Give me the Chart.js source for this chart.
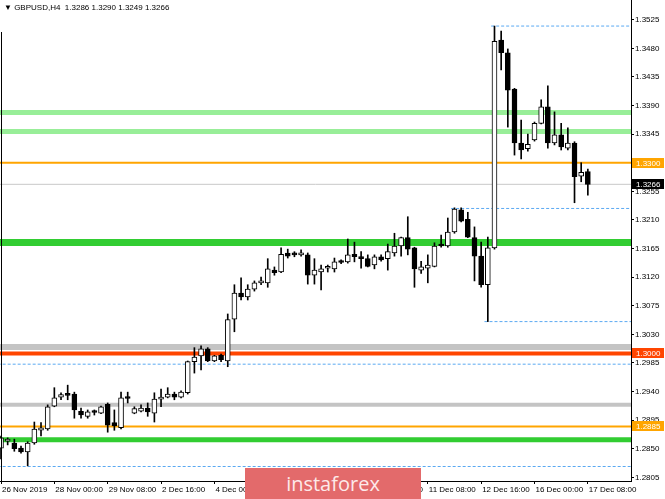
<!DOCTYPE html>
<html>
<head>
<meta charset="utf-8">
<title>GBPUSD H4</title>
<script src="https://cdn.jsdelivr.net/npm/chart.js@4.4.0/dist/chart.umd.min.js"></script>
<style>
  html, body { margin: 0; padding: 0; background: #fff; }
  #wrap { position: relative; width: 665px; height: 499px; overflow: hidden; }
  #title { position: absolute; left: 4px; top: 3px; font: 8px "Liberation Sans", Arial, sans-serif; color: #000; white-space: pre; }
  #brand { position: absolute; left: 245px; top: 468px; width: 176px; height: 31px; background: #e36a6b;
           color: #fde9e9; font: 20px "Open Sans", sans-serif; text-align: center; line-height: 31px; }
</style>
</head>
<body>
<div id="wrap">
  <canvas id="chart" width="665" height="499"></canvas>
  <div id="title">▼ GBPUSD,H4  1.3286 1.3290 1.3249 1.3266</div>
  <div id="brand">instaforex</div>
</div>
<script>
// H4 candles, 26 Nov 16:00 .. 17 Dec 08:00
const opens = [1.2851,1.2862,1.2859,1.2851,1.2845,1.2859,1.2879,1.2881,1.2917,1.2931,
  1.2935,1.2936,1.2909,1.2901,1.2908,1.2906,1.2920,1.2891,1.2883,1.2930,
  1.2906,1.2909,1.2914,1.2906,1.2928,1.2931,1.2936,1.2931,1.2938,1.2987,
  1.2996,1.3007,1.2988,1.2997,1.2988,1.3054,1.3095,1.3089,1.3101,1.3111,
  1.3111,1.3131,1.3128,1.3158,1.3156,1.3155,1.3155,1.3123,1.3128,1.3134,
  1.3133,1.3144,1.3144,1.3156,1.3152,1.3149,1.3139,1.3152,1.3149,1.3158,
  1.3169,1.3182,1.3166,1.3131,1.3134,1.3137,1.3172,1.3169,1.3191,1.3226,
  1.3211,1.3182,1.3153,1.3108,1.3166,1.3493,1.3473,1.3416,1.3331,1.3322,
  1.3336,1.3362,1.3388,1.3331,1.3344,1.3323,1.3331,1.3279,1.3286];
const highs = [1.2870,1.2867,1.2865,1.2854,1.2861,1.2892,1.2891,1.2919,1.2946,1.2938,
  1.2950,1.2939,1.2914,1.2911,1.2911,1.2917,1.2922,1.2911,1.2939,1.2939,
  1.2916,1.2919,1.2922,1.2938,1.2944,1.2946,1.2939,1.2941,1.2988,1.3009,
  1.3012,1.3009,1.2997,1.2999,1.3062,1.3108,1.3119,1.3108,1.3114,1.3120,
  1.3149,1.3136,1.3166,1.3164,1.3160,1.3163,1.3158,1.3149,1.3139,1.3139,
  1.3150,1.3147,1.3180,1.3175,1.3160,1.3155,1.3155,1.3155,1.3172,1.3189,
  1.3183,1.3215,1.3167,1.3145,1.3155,1.3174,1.3186,1.3213,1.3229,1.3229,
  1.3222,1.3199,1.3175,1.3183,1.3515,1.3507,1.3479,1.3417,1.3367,1.3345,
  1.3364,1.3399,1.3421,1.3380,1.3362,1.3355,1.3333,1.3300,1.3290];
const lows = [1.2834,1.2856,1.2846,1.2843,1.2823,1.2857,1.2870,1.2879,1.2916,1.2927,
  1.2927,1.2898,1.2898,1.2898,1.2903,1.2905,1.2876,1.2879,1.2881,1.2922,
  1.2905,1.2908,1.2901,1.2892,1.2916,1.2930,1.2927,1.2930,1.2936,1.2969,
  1.2974,1.2987,1.2987,1.2987,1.2979,1.3034,1.3084,1.3084,1.3098,1.3108,
  1.3104,1.3123,1.3127,1.3150,1.3152,1.3153,1.3109,1.3109,1.3100,1.3128,
  1.3128,1.3141,1.3142,1.3144,1.3134,1.3136,1.3133,1.3145,1.3131,1.3153,
  1.3153,1.3155,1.3104,1.3126,1.3111,1.3136,1.3167,1.3167,1.3189,1.3207,
  1.3182,1.3114,1.3104,1.3050,1.3164,1.3446,1.3356,1.3312,1.3306,1.3318,
  1.3334,1.3361,1.3323,1.3328,1.3320,1.3320,1.3237,1.3270,1.3249];
const closes = [1.2867,1.2863,1.2850,1.2845,1.2859,1.2881,1.2883,1.2916,1.2930,1.2935,
  1.2934,1.2911,1.2903,1.2908,1.2907,1.2916,1.2887,1.2886,1.2930,1.2929,
  1.2913,1.2914,1.2908,1.2928,1.2931,1.2936,1.2931,1.2939,1.2987,1.2994,
  1.3007,1.2988,1.2996,1.2990,1.3053,1.3095,1.3089,1.3101,1.3111,1.3113,
  1.3133,1.3127,1.3156,1.3153,1.3155,1.3156,1.3123,1.3131,1.3133,1.3135,
  1.3144,1.3143,1.3155,1.3152,1.3149,1.3137,1.3152,1.3147,1.3160,1.3169,
  1.3182,1.3164,1.3133,1.3136,1.3139,1.3169,1.3169,1.3191,1.3227,1.3208,
  1.3183,1.3153,1.3108,1.3166,1.3491,1.3473,1.3414,1.3331,1.3320,1.3329,
  1.3362,1.3388,1.3331,1.3344,1.3325,1.3331,1.3278,1.3285,1.3266];

// time axis: one label every 8 bars
const timeTickBars = [0, 8, 16, 24, 32, 40, 48, 56, 64, 72, 80, 88];
const timeTickLabels = ['26 Nov 2019', '28 Nov 00:00', '29 Nov 08:00', '2 Dec 16:00', '4 Dec 00:00',
  '5 Dec 08:00', '6 Dec 16:00', '10 Dec 00:00', '11 Dec 08:00', '12 Dec 16:00', '16 Dec 00:00', '17 Dec 08:00'];
const priceTicks = [1.2805, 1.2850, 1.2895, 1.2940, 1.2985, 1.3030, 1.3075, 1.3120, 1.3165,
  1.3210, 1.3255, 1.3300, 1.3345, 1.3390, 1.3435, 1.3480, 1.3525];

// drawn levels
const greenLevels = [1.31745, 1.2864];
const lightGreenLevels = [1.3379, 1.3349];
const orangeLevels = [1.3300, 1.2885];
const greyLevels = [1.3010, 1.2919];
const redLevels = [1.3000];
const dottedLevels = [1.3515, 1.3228, 1.3050, 1.2983, 1.2822];
const dottedFromBar = [74, 68, 73, 0, 0];
const lastPrice = 1.3266;
const tagPrices = [1.3300, 1.3266, 1.3000, 1.2885];

const X_MIN = -0.15, X_MAX = 94.47;
const Y_MIN = 1.27992, Y_MAX = 1.3556;
const tagColors = ['#ffa500', '#000000', '#ff4500', '#ffa500'];

Chart.defaults.font.family = '"Liberation Sans", Arial, sans-serif';
Chart.defaults.font.size = 8;
Chart.defaults.color = '#000';

const bull = i => closes[i] >= opens[i];

function levelSets(prices, color, width, dash, from) {
  return prices.map((p, k) => ({
    type: 'line',
    data: [{ x: from ? from[k] - 0.5 : X_MIN, y: p }, { x: X_MAX, y: p }],
    borderColor: color,
    borderWidth: width,
    borderDash: dash || [],
    pointRadius: 0,
    order: 10
  }));
}

const datasets = [
  {
    label: 'body',
    data: opens.map((o, i) => ({ x: i, y: [o, closes[i]] })),
    backgroundColor: ctx => bull(ctx.dataIndex) ? '#ffffff' : '#000000',
    borderColor: '#000',
    borderWidth: 1,
    borderSkipped: false,
    barThickness: 5,
    minBarLength: 2,
    grouped: false,
    order: 0
  },
  {
    label: 'wick',
    data: lows.map((l, i) => ({ x: i, y: [l, highs[i]] })),
    backgroundColor: '#000',
    borderWidth: 0,
    barThickness: 1,
    grouped: false,
    order: 1
  },
  ...levelSets(lightGreenLevels, '#98ee98', 5),
  ...levelSets(greenLevels.slice(0, 1), '#32cd32', 7),
  ...levelSets(greenLevels.slice(1), '#32cd32', 5),
  ...levelSets(greyLevels.slice(0, 1), '#c4c4c4', 6),
  ...levelSets(greyLevels.slice(1), '#c4c4c4', 4),
  ...levelSets(orangeLevels, '#ffa500', 2),
  ...levelSets(redLevels, '#ff4500', 4),
  ...levelSets([lastPrice], '#c8c8c8', 1),
  ...levelSets(dottedLevels, '#5aa9f2', 1, [3, 2], dottedFromBar)
];

const overlay = {
  id: 'overlay',
  afterDraw(chart) {
    const { ctx, chartArea, scales: { y } } = chart;
    ctx.save();
    ctx.strokeStyle = '#000';
    ctx.lineWidth = 1;
    ctx.beginPath();
    ctx.moveTo(chartArea.left + 1.5, 32);
    ctx.lineTo(chartArea.left + 1.5, chartArea.bottom);
    ctx.stroke();
    // price tags on the right axis
    ctx.font = '8px "Liberation Sans", Arial, sans-serif';
    ctx.textBaseline = 'middle';
    tagPrices.forEach((p, i) => {
      const py = Math.round(y.getPixelForValue(p));
      ctx.fillStyle = tagColors[i];
      ctx.fillRect(chartArea.right + 1, py - 5, 32, 10);
      ctx.fillStyle = '#fff';
      ctx.fillText(p.toFixed(4), chartArea.right + 5, py + 0.5);
    });
    ctx.restore();
  }
};

new Chart(document.getElementById('chart'), {
  type: 'bar',
  data: { datasets },
  options: {
    responsive: false,
    animation: false,
    events: [],
    layout: { padding: 0 },
    plugins: { legend: { display: false }, tooltip: { enabled: false } },
    scales: {
      x: {
        type: 'linear',
        min: X_MIN,
        max: X_MAX,
        offset: false,
        afterBuildTicks: s => { s.ticks = timeTickBars.map(v => ({ value: v })); },
        afterFit: s => { s.height = 18; s.paddingLeft = 0; s.paddingRight = 0; },
        ticks: {
          autoSkip: false,
          maxRotation: 0,
          align: 'start',
          padding: 1,
          labelOffset: 1,
          callback: v => timeTickLabels[timeTickBars.indexOf(v)]
        },
        grid: { offset: false, drawOnChartArea: false, tickLength: 3, color: '#000' },
        border: { display: true, color: '#000' }
      },
      y: {
        position: 'right',
        min: Y_MIN,
        max: Y_MAX,
        afterBuildTicks: s => { s.ticks = priceTicks.map(v => ({ value: v })); },
        afterFit: s => { s.width = 34; s.paddingTop = 0; s.paddingBottom = 0; },
        ticks: { padding: 1, callback: v => v.toFixed(4) },
        grid: { drawOnChartArea: false, tickLength: 3, color: '#000' },
        border: { display: true, color: '#000' }
      }
    }
  },
  plugins: [overlay]
});
</script>
</body>
</html>
